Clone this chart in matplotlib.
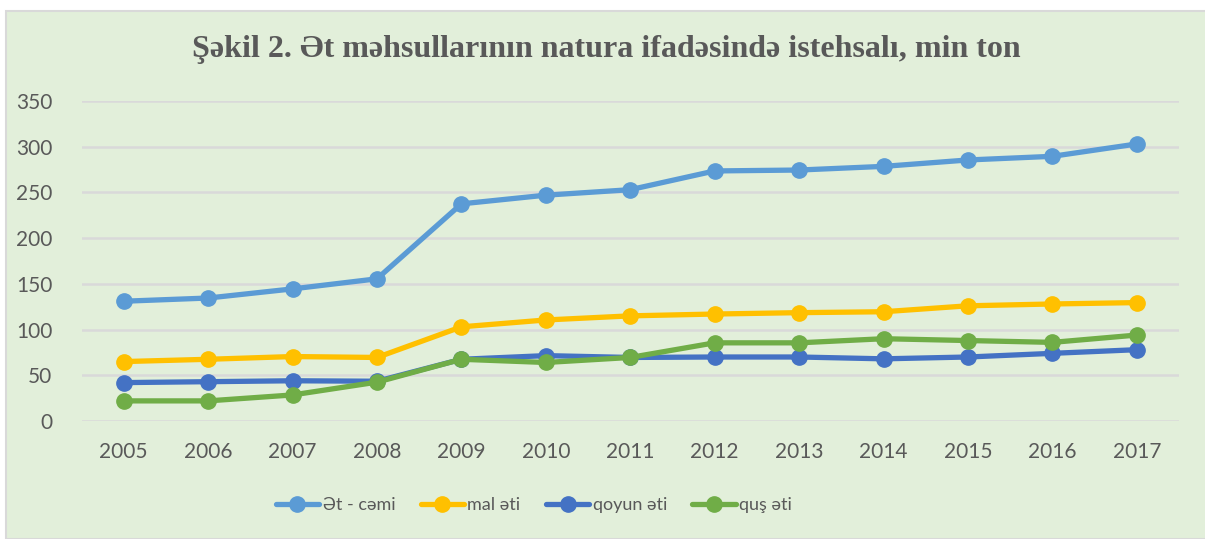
import matplotlib
matplotlib.use("Agg")
import matplotlib.pyplot as plt
from matplotlib.patches import Rectangle

years = ["2005", "2006", "2007", "2008", "2009", "2010", "2011",
         "2012", "2013", "2014", "2015", "2016", "2017"]
et_cemi = [131, 134.5, 144.5, 155.5, 237.5, 247, 253, 273.5, 274.5, 278.5, 285.5, 289.5, 303]
mal_eti = [65, 67.5, 70.5, 69.5, 103, 110.5, 115, 117, 118.5, 119.5, 126, 128, 129.5]
qoyun_eti = [42, 43, 44, 43.5, 67.5, 71.5, 69.5, 70, 70, 68, 70, 74, 78]
qus_eti = [22, 22, 28.5, 42.5, 67.5, 64, 69.5, 85.5, 85.5, 90, 88, 86, 94]
series_names = ["Ət - cəmi", "mal əti", "qoyun əti", "quş əti"]
yticks = [0, 50, 100, 150, 200, 250, 300, 350]

colors = ["#5B9BD5", "#FFC000", "#4472C4", "#70AD47"]
bg = "#E2EFDA"
txt = "#595959"

W, H = 1205, 539
fig = plt.figure(figsize=(W / 100, H / 100), dpi=100)
fig.patch.set_facecolor("white")
fig.patches.append(Rectangle((6 / W, 0), 1.0, 1 - 11 / H, transform=fig.transFigure,
                             facecolor=bg, edgecolor="#D9D9D9", linewidth=1.5, zorder=-5))

ax = fig.add_axes([81.5 / W, 1 - 421 / H, (1179 - 81.5) / W, (421 - 101) / H])
ax.set_facecolor("none")
ax.set_zorder(2)
x = list(range(len(years)))
for vals, c, name in zip([et_cemi, mal_eti, qoyun_eti, qus_eti], colors, series_names):
    ax.plot(x, vals, color=c, linewidth=3.8, marker="o", markersize=11,
            label=name, solid_capstyle="round", zorder=3)

ax.set_xlim(-0.5, len(years) - 0.5)
ax.set_ylim(0, 350)
ax.set_yticks(yticks)
ax.set_xticks(x)
ax.set_xticklabels(years)
ax.grid(axis="y", color="#D9D9D9", linewidth=1.8)
ax.set_axisbelow(True)
for s in ax.spines.values():
    s.set_visible(False)
ax.tick_params(length=0, labelsize=15, labelcolor=txt)
ax.tick_params(axis="x", pad=15)
ax.tick_params(axis="y", pad=21)
for lab in ax.get_xticklabels() + ax.get_yticklabels():
    lab.set_fontfamily("Lato")

fig.text(606 / W, 1 - 50 / H, "Şəkil 2. Ət məhsullarının natura ifadəsində istehsalı, min ton",
         ha="center", va="center", fontsize=23, fontweight="bold",
         family="Liberation Serif", color=txt)

leg = fig.legend(loc="center", bbox_to_anchor=(534 / W, 1 - 505 / H), ncol=4,
                 frameon=False, prop={"family": "Lato", "size": 13},
                 handlelength=2.4, columnspacing=1.4, handletextpad=0.2)
for t in leg.get_texts():
    t.set_color(txt)

fig.savefig("out.png", dpi=100, facecolor=fig.get_facecolor())
